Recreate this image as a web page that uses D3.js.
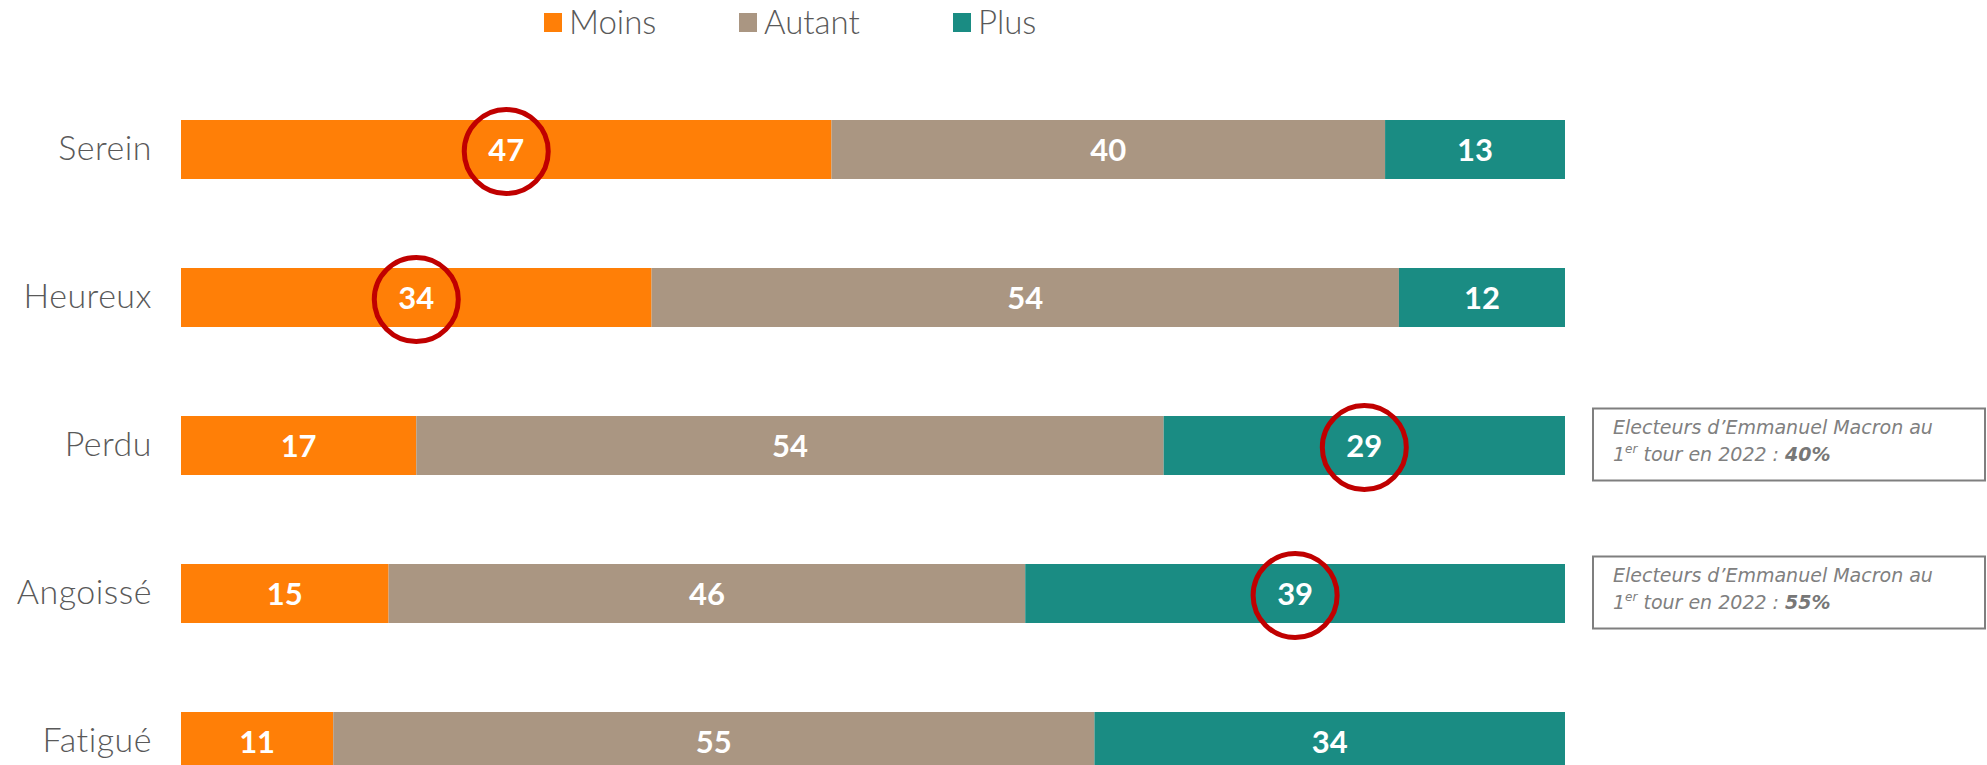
<!DOCTYPE html>
<html>
<head>
<meta charset="utf-8">
<script src="https://cdn.jsdelivr.net/npm/d3@7"></script>
<style>
    html, body {margin: 0; padding: 0; background: #fff;}
    svg {display: block;}
    text {font-family: Lato, "Open Sans", sans-serif;}
</style>
</head>
<body>
<div id="chart"></div>
<script>
// données
var categories = ['Serein', 'Heureux', 'Perdu', 'Angoissé', 'Fatigué'];
var moins = [47, 34, 17, 15, 11];
var autant = [40, 54, 54, 46, 55];
var plus = [13, 12, 29, 39, 34];
var seriesNames = ['Moins', 'Autant', 'Plus'];
var seriesKeys = ['moins', 'autant', 'plus'];
var seriesColors = ['#ff7f07', '#aa9682', '#1a8c83'];
// valeurs entourées
var circledCats = ['Serein', 'Heureux', 'Perdu', 'Angoissé'];
var circledKeys = ['moins', 'moins', 'plus', 'plus'];
// encadrés
var noteCats = ['Perdu', 'Angoissé'];
var noteValues = ['40%', '55%'];

var W = 1987, H = 765;
var svg = d3.select('#chart').append('svg').attr('width', W).attr('height', H);

var rows = categories.map(function (c, i) {
    return {cat: c, moins: moins[i], autant: autant[i], plus: plus[i]};
});
var stacked = d3.stack().keys(seriesKeys)(rows);

var x = d3.scaleLinear().domain([0, 100]).range([181, 1565]);
var y = d3.scaleBand().domain(categories).range([120, 771]).paddingInner(0.6014).paddingOuter(0);
var color = d3.scaleOrdinal().domain(seriesKeys).range(seriesColors);

// barres
var layer = svg.selectAll('g.layer').data(stacked).enter().append('g')
    .attr('class', 'layer')
    .attr('fill', function (d) { return color(d.key); });

layer.selectAll('rect').data(function (d) { return d; }).enter().append('rect')
    .attr('x', function (d) { return x(d[0]); })
    .attr('y', function (d) { return y(d.data.cat); })
    .attr('width', function (d) { return x(d[1]) - x(d[0]); })
    .attr('height', y.bandwidth());

// étiquettes de valeur
layer.selectAll('text').data(function (d) { return d; }).enter().append('text')
    .attr('x', function (d) { return (x(d[0]) + x(d[1])) / 2; })
    .attr('y', function (d) { return y(d.data.cat) + y.bandwidth() / 2; })
    .attr('dy', '0.36em')
    .attr('text-anchor', 'middle')
    .attr('fill', '#fff')
    .attr('font-weight', 'bold')
    .attr('font-size', 31)
    .text(function (d) { return d[1] - d[0]; });

// axe des catégories
var yAxis = svg.append('g').attr('transform', 'translate(152,0)')
    .call(d3.axisLeft(y).tickSize(0).tickPadding(0));
yAxis.select('.domain').remove();
yAxis.selectAll('text')
    .attr('font-size', 34)
    .attr('font-weight', 300)
    .attr('fill', '#595959')
    .style('letter-spacing', '0.5px')
    .style('font-family', 'Lato, sans-serif');

// cercles rouges
circledCats.forEach(function (c, i) {
    var s = stacked[seriesKeys.indexOf(circledKeys[i])];
    var d = s[categories.indexOf(c)];
    svg.append('circle')
        .attr('cx', (x(d[0]) + x(d[1])) / 2)
        .attr('cy', y(c) + y.bandwidth() / 2 + 2)
        .attr('r', 42)
        .attr('fill', 'none')
        .attr('stroke', '#c00000')
        .attr('stroke-width', 5);
});

// légende
var legendX = [544, 739, 953];
var legend = svg.selectAll('g.legend').data(seriesNames).enter().append('g')
    .attr('class', 'legend')
    .attr('transform', function (d, i) { return 'translate(' + legendX[i] + ',0)'; });
legend.append('rect')
    .attr('x', 0).attr('y', 13).attr('width', 18).attr('height', 19)
    .attr('fill', function (d, i) { return seriesColors[i]; });
legend.append('text')
    .attr('x', 25).attr('y', 34)
    .attr('font-size', 33)
    .attr('font-weight', 300)
    .attr('fill', '#595959')
    .text(function (d) { return d; });

// encadrés
noteCats.forEach(function (c, i) {
    var cy = y(c) + y.bandwidth() / 2;
    var g = svg.append('g').attr('transform', 'translate(1593,' + (cy - 37) + ')')
        .style('font-family', '"DejaVu Sans", sans-serif');
    g.append('rect')
        .attr('x', 0).attr('y', 0).attr('width', 392).attr('height', 72)
        .attr('fill', '#fff').attr('stroke', '#7f7f7f').attr('stroke-width', 2);
    g.append('text')
        .attr('x', 20).attr('y', 25)
        .style('font-family', '"DejaVu Sans", sans-serif')
        .attr('font-size', 19).attr('font-style', 'italic').attr('fill', '#808080')
        .text('Electeurs d\u2019Emmanuel Macron au');
    var t = g.append('text')
        .attr('x', 20).attr('y', 52)
        .style('font-family', '"DejaVu Sans", sans-serif')
        .attr('font-size', 19).attr('font-style', 'italic').attr('fill', '#808080');
    t.append('tspan').text('1');
    t.append('tspan').attr('font-size', 12).attr('dy', -8).text('er');
    t.append('tspan').attr('dy', 8).text(' tour en 2022 : ');
    t.append('tspan').attr('font-weight', 'bold').attr('fill', '#777').text(noteValues[i]);
});
</script>
</body>
</html>
